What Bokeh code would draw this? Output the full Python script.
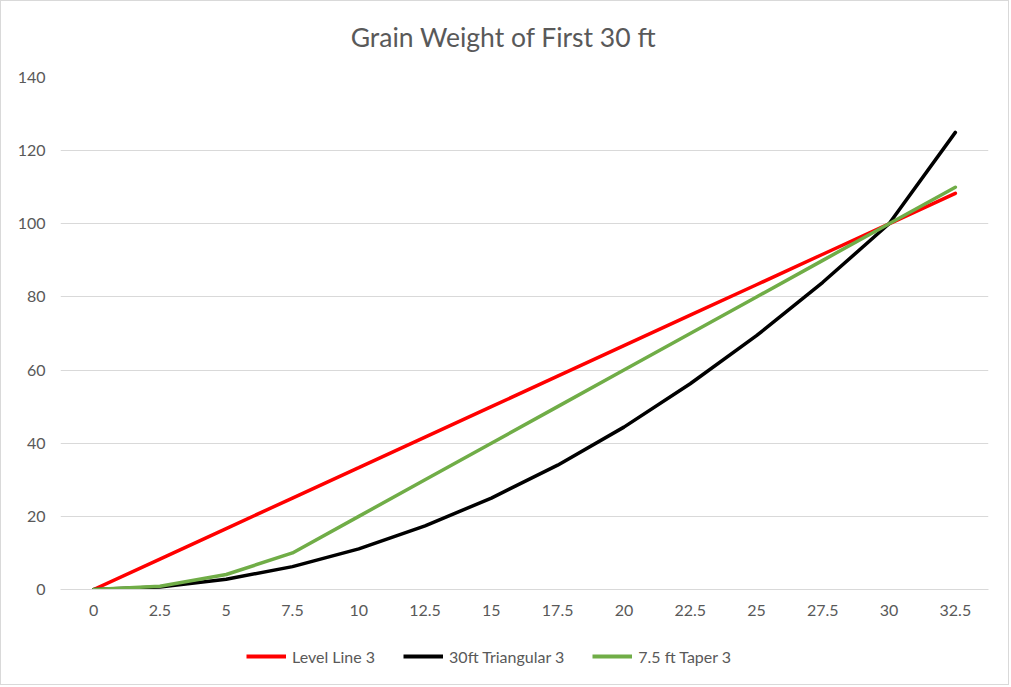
from bokeh.plotting import figure
from bokeh.layouts import column
from bokeh.models import FactorRange, Range1d, FixedTicker, Legend, LegendItem, ColumnDataSource, Label
from bokeh.embed import file_html
from bokeh.resources import INLINE

title_text = "Grain Weight of First 30 ft"
categories = ["0", "2.5", "5", "7.5", "10", "12.5", "15", "17.5", "20", "22.5", "25", "27.5", "30", "32.5"]
level_line = [0, 8.33, 16.67, 25, 33.33, 41.67, 50, 58.33, 66.67, 75, 83.33, 91.67, 100, 108.33]
triangular = [0, 0.7, 2.8, 6.25, 11.1, 17.4, 25, 34.0, 44.4, 56.25, 69.4, 84.0, 100, 125]
taper = [0, 0.9, 4.1, 10, 20, 30, 40, 50, 60, 70, 80, 90, 100, 110]
y_ticks = [0, 20, 40, 60, 80, 100, 120, 140]
series_names = ["Level Line 3", "30ft Triangular 3", "7.5 ft Taper 3"]
colors = ["#ff0000", "#000000", "#70ad47"]

FONT = "Lato"
TXT = "#595959"
W = 1007


def strip(h):
    f = figure(width=W, height=h, output_backend="svg", toolbar_location=None,
               x_range=FactorRange(factors=categories, range_padding=0), y_range=Range1d(1000, 1001),
               x_axis_type=None, y_axis_type=None,
               min_border_left=0, min_border_right=0, min_border_top=0, min_border_bottom=0)
    f.outline_line_color = None
    f.grid.visible = False
    return f


src = ColumnDataSource(dict(x=categories, level=level_line, tri=triangular, taper=taper))
cols = ["level", "tri", "taper"]

# title strip
tf = strip(64)
tf.add_layout(Label(x=443, y=29, x_units="screen", y_units="screen", text=title_text,
                    text_align="center", text_baseline="middle", text_font=FONT,
                    text_font_size="26.5px", text_color=TXT))

# main chart
p = figure(width=W, height=567, output_backend="svg", toolbar_location=None,
           x_range=FactorRange(factors=categories, range_padding=0),
           y_range=Range1d(0, 140),
           min_border_left=59, min_border_right=20, min_border_top=12, min_border_bottom=43)
p.outline_line_color = None
p.xgrid.grid_line_color = None
p.ygrid.grid_line_color = "#d9d9d9"
p.ygrid.grid_line_width = 1

p.yaxis.ticker = FixedTicker(ticks=y_ticks)
p.yaxis.axis_line_color = None
p.yaxis.major_tick_line_color = None
p.yaxis.minor_tick_line_color = None
p.yaxis.major_label_standoff = 9
p.xaxis.axis_line_color = "#d9d9d9"
p.xaxis.major_tick_line_color = None
p.xaxis.minor_tick_line_color = None
p.xaxis.major_label_standoff = 9
for ax in (p.xaxis[0], p.yaxis[0]):
    ax.major_label_text_font = FONT
    ax.major_label_text_font_size = "16px"
    ax.major_label_text_color = TXT

for c, col in zip(cols, colors):
    p.line("x", c, source=src, line_color=col, line_width=3.5, line_cap="round")

# legend strip below the chart
lf = strip(52)
items = []
for c, col, name in zip(cols, colors, series_names):
    r = lf.line("x", c, source=src, line_color=col, line_width=4)
    items.append(LegendItem(label=name, renderers=[r]))
legend = Legend(items=items, orientation="horizontal", location=(186, 18),
                label_text_font=FONT, label_text_font_size="16px", label_text_color=TXT,
                glyph_width=40, spacing=28, label_standoff=6, padding=10,
                background_fill_alpha=0, border_line_color=None)
lf.add_layout(legend, "center")

layout = column(tf, p, lf, spacing=0)
layout.styles = {"border": "1px solid #d9d9d9"}
open("out.html", "w").write(file_html(layout, INLINE))
